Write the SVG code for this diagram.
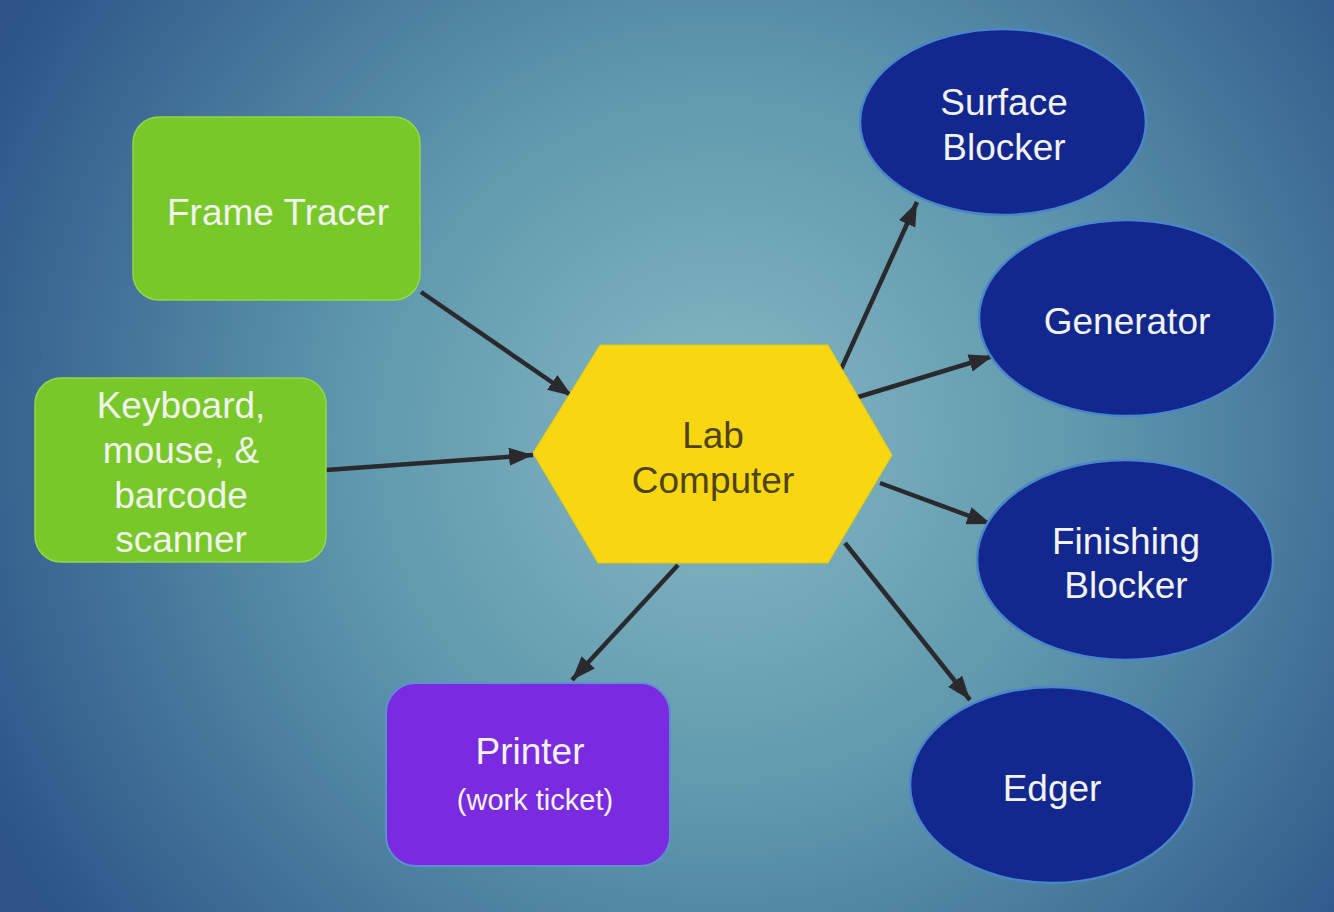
<svg xmlns="http://www.w3.org/2000/svg" width="1334" height="912" viewBox="0 0 1334 912">
<defs>
<radialGradient id="bg" cx="720" cy="440" r="820" gradientUnits="userSpaceOnUse">
<stop offset="0" stop-color="#86b9c2"/>
<stop offset="0.45" stop-color="#5f98ad"/>
<stop offset="1" stop-color="#2c5488"/>
</radialGradient>
<marker id="ah" markerUnits="userSpaceOnUse" markerWidth="26" markerHeight="22" refX="24" refY="11" orient="auto">
<path d="M0,2 L24,11 L0,20 Z" fill="#2a2a2e"/>
</marker>
<style>
.green{fill:#79c82a;stroke:#8fd84a;stroke-width:1.5}
.oval{fill:#13288e;stroke:#4a86c8;stroke-width:2.5}
.wt{fill:#f2f2ee;font-family:"Liberation Sans",Arial,sans-serif;font-size:37px;text-anchor:middle}
.conn line{stroke:#2a2a2e;stroke-width:4.5;marker-end:url(#ah)}
</style>
</defs>
<rect width="1334" height="912" fill="url(#bg)"/>
<g class="conn" id="connectors">
<line x1="421" y1="292" x2="572" y2="396"/>
<line x1="326" y1="470" x2="533" y2="455"/>
<line x1="838" y1="376" x2="917" y2="202"/>
<line x1="855" y1="398" x2="993" y2="356"/>
<line x1="880" y1="483" x2="991" y2="524"/>
<line x1="845" y1="543" x2="970" y2="700"/>
<line x1="678" y1="565" x2="572" y2="680"/>
</g>
<g id="frame-tracer">
<rect class="green" x="133" y="117" width="287" height="183" rx="26"/>
<text class="wt" x="278" y="225">Frame Tracer</text>
</g>
<g id="keyboard">
<rect class="green" x="35" y="378" width="291" height="184" rx="26"/>
<text class="wt" x="181" y="418">Keyboard,</text>
<text class="wt" x="181" y="463">mouse, &amp;</text>
<text class="wt" x="181" y="508">barcode</text>
<text class="wt" x="181" y="552">scanner</text>
</g>
<g id="lab-computer">
<polygon points="533,453 600,345 828,345 892,455 828,563 598,563" fill="#f7d711" stroke="#e8c810" stroke-width="1"/>
<text class="wt" x="713" y="448" style="fill:#4e4218">Lab</text>
<text class="wt" x="713" y="493" style="fill:#4e4218">Computer</text>
</g>
<g id="printer">
<rect x="386" y="683" width="284" height="183" rx="30" fill="#7a2be0" stroke="#5d8ed0" stroke-width="2"/>
<text class="wt" x="530" y="764">Printer</text>
<text class="wt" x="535" y="810" style="font-size:29px">(work ticket)</text>
</g>
<g id="surface-blocker">
<ellipse class="oval" cx="1003" cy="122" rx="143" ry="93"/>
<text class="wt" x="1004" y="115">Surface</text>
<text class="wt" x="1004" y="160">Blocker</text>
</g>
<g id="generator">
<ellipse class="oval" cx="1127" cy="318" rx="148" ry="98"/>
<text class="wt" x="1127" y="334">Generator</text>
</g>
<g id="finishing-blocker">
<ellipse class="oval" cx="1125" cy="560" rx="148" ry="100"/>
<text class="wt" x="1126" y="554">Finishing</text>
<text class="wt" x="1126" y="598">Blocker</text>
</g>
<g id="edger">
<ellipse class="oval" cx="1052" cy="785" rx="142" ry="98"/>
<text class="wt" x="1052" y="801">Edger</text>
</g>
</svg>
